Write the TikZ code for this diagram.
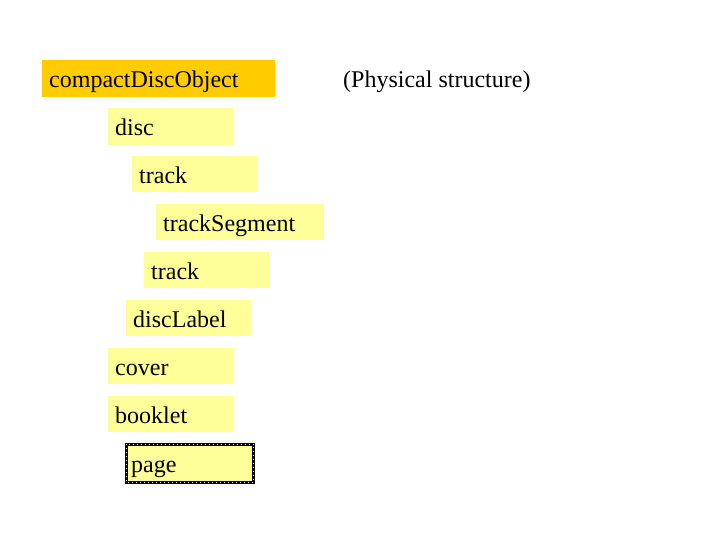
\documentclass[tikz,border=0pt]{standalone}
\usepackage{fontspec}
\setmainfont{Liberation Serif}
\definecolor{gold}{HTML}{FFCC00}
\definecolor{pale}{HTML}{FFFF99}
\begin{document}
\begin{tikzpicture}[x=1bp,y=-1bp,
  box/.style={anchor=north west, inner xsep=7bp, inner ysep=0pt, align=left,
    font=\fontsize{24bp}{28bp}\selectfont, text height=20bp, text depth=2bp, fill=pale},
  plain/.style={anchor=west, inner sep=0pt, font=\fontsize{24bp}{28bp}\selectfont}]
\useasboundingbox (0,0) rectangle (720,540);
\node[box, fill=gold, minimum width=233bp, minimum height=37bp, text width=219bp] (cdo) at (42,60) {compactDiscObject};
\node[box, minimum width=125bp, minimum height=37bp, text width=111bp] (disc) at (108,108) {disc};
\node[box, minimum width=125bp, minimum height=36bp, text width=111bp] (track1) at (132,156) {track};
\node[box, minimum width=168bp, minimum height=36bp, text width=154bp] (seg) at (156,204) {trackSegment};
\node[box, minimum width=125bp, minimum height=36bp, text width=111bp] (track2) at (144,252) {track};
\node[box, minimum width=125bp, minimum height=36bp, text width=111bp] (label) at (126,300) {discLabel};
\node[box, minimum width=125bp, minimum height=36bp, text width=111bp] (cover) at (108,348) {cover};
\node[box, minimum width=125bp, minimum height=36bp, text width=111bp] (booklet) at (108,396) {booklet};
\node[box, minimum width=127bp, minimum height=38bp, text width=117bp, inner xsep=5bp] (page) at (126,444) {page};
\draw[black, line width=3bp] (page.north west) rectangle (page.south east);
\draw[white, line width=1bp, dash pattern=on 1bp off 3bp] (page.north west) rectangle (page.south east);
\node[plain] (phys) at (343,82) {(Physical structure)};
\end{tikzpicture}
\end{document}
